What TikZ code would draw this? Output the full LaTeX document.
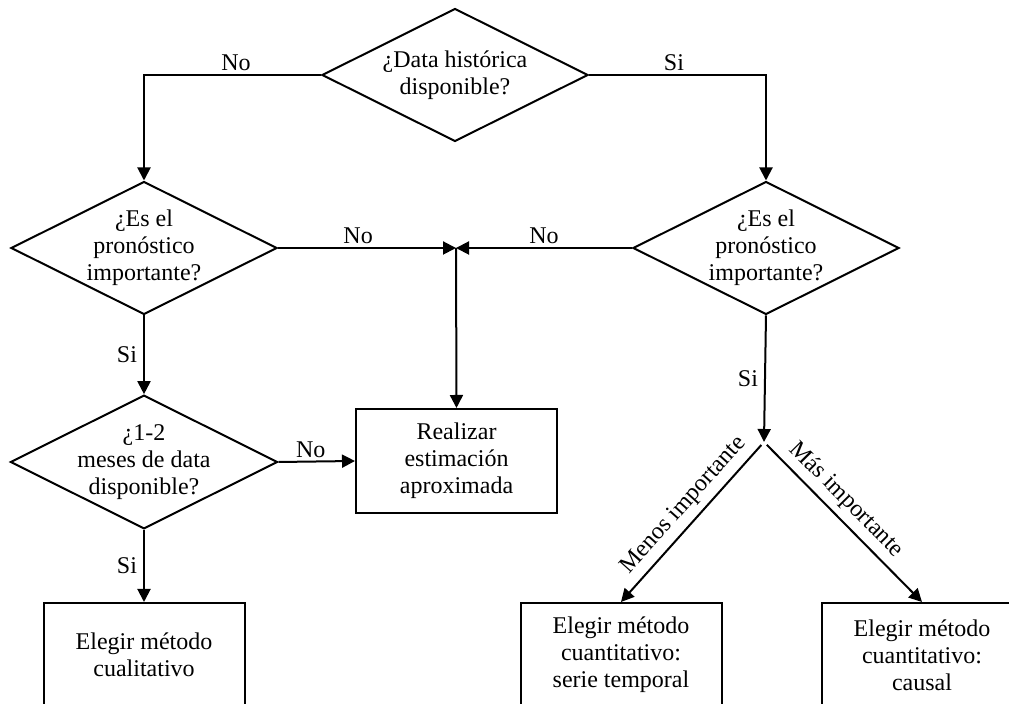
\documentclass[tikz,border=0pt]{standalone}
\usepackage{fontspec}
\setmainfont{Liberation Serif}
\usetikzlibrary{arrows.meta, positioning, shapes.geometric}

\begin{document}
\begin{tikzpicture}[x=0.5pt, y=-0.5pt, line width=1pt,
  txt/.style={font=\fontsize{12}{13.5}\selectfont},
  decision/.style={txt, draw, diamond, aspect=2, inner xsep=0pt, inner ysep=-2pt,
    minimum width=133pt, minimum height=66.5pt, align=center},
  stepbox/.style={txt, draw, rectangle, minimum width=100.5pt, minimum height=52pt, align=center},
  flow/.style={-{Triangle[length=6.5pt, width=6.5pt]}},
  lbl/.style={txt, inner xsep=3pt, inner ysep=1.5pt},
  slopelbl/.style={txt, inner sep=3pt, sloped, above}]
  \useasboundingbox (0,0) rectangle (1009,704);
  \node[decision] (hist) at (455,75) {¿Data histórica\\disponible?};
  \node[decision] (impL) at (144,248) {¿Es el\\pronóstico\\importante?};
  \node[decision] (impR) at (766,248) {¿Es el\\pronóstico\\importante?};
  \node[decision] (meses) at (144,462) {¿1-2\\meses de data\\disponible?};
  \node[stepbox] (aprox) at (456.5,461) {Realizar\\estimación\\aproximada};
  \node[stepbox] (cuali) at (144,655) {Elegir método\\cualitativo};
  \node[stepbox] (serie) at (621,655) {Elegir método\\cuantitativo:\\serie temporal};
  \node[stepbox] (causal) at (922,655) {Elegir método\\cuantitativo:\\causal};
  \coordinate (junc) at (456,248);
  \coordinate (split) at (764,442);

  \draw[flow] (hist.west) -| node[lbl, pos=0.24, above] {No} (impL.north);
  \draw[flow] (hist.east) -| node[lbl, pos=0.24, above] {Si} (impR.north);
  \draw[flow] (impL.east) -- node[lbl, pos=0.45, above] {No} (junc);
  \draw[flow] (impR.west) -- node[lbl, above] {No} (junc);
  \draw[flow] (junc) -- (aprox.north);
  \draw[flow] (impL.south) -- node[lbl, left] {Si} (meses.north);
  \draw[flow] (meses.east) -- node[lbl, pos=0.42, above] {No} (aprox.west);
  \draw[flow] (meses.south) -- node[lbl, left] {Si} (cuali.north);
  \draw[flow] (impR.south) -- node[lbl, left] {Si} (split);
  \draw[flow, shorten <=2pt] (split) -- node[slopelbl, pos=0.47] {Menos importante} (serie.north);
  \draw[flow, shorten <=2pt] (split) -- node[slopelbl, pos=0.44] {Más importante} (causal.north);
\end{tikzpicture}
\end{document}
